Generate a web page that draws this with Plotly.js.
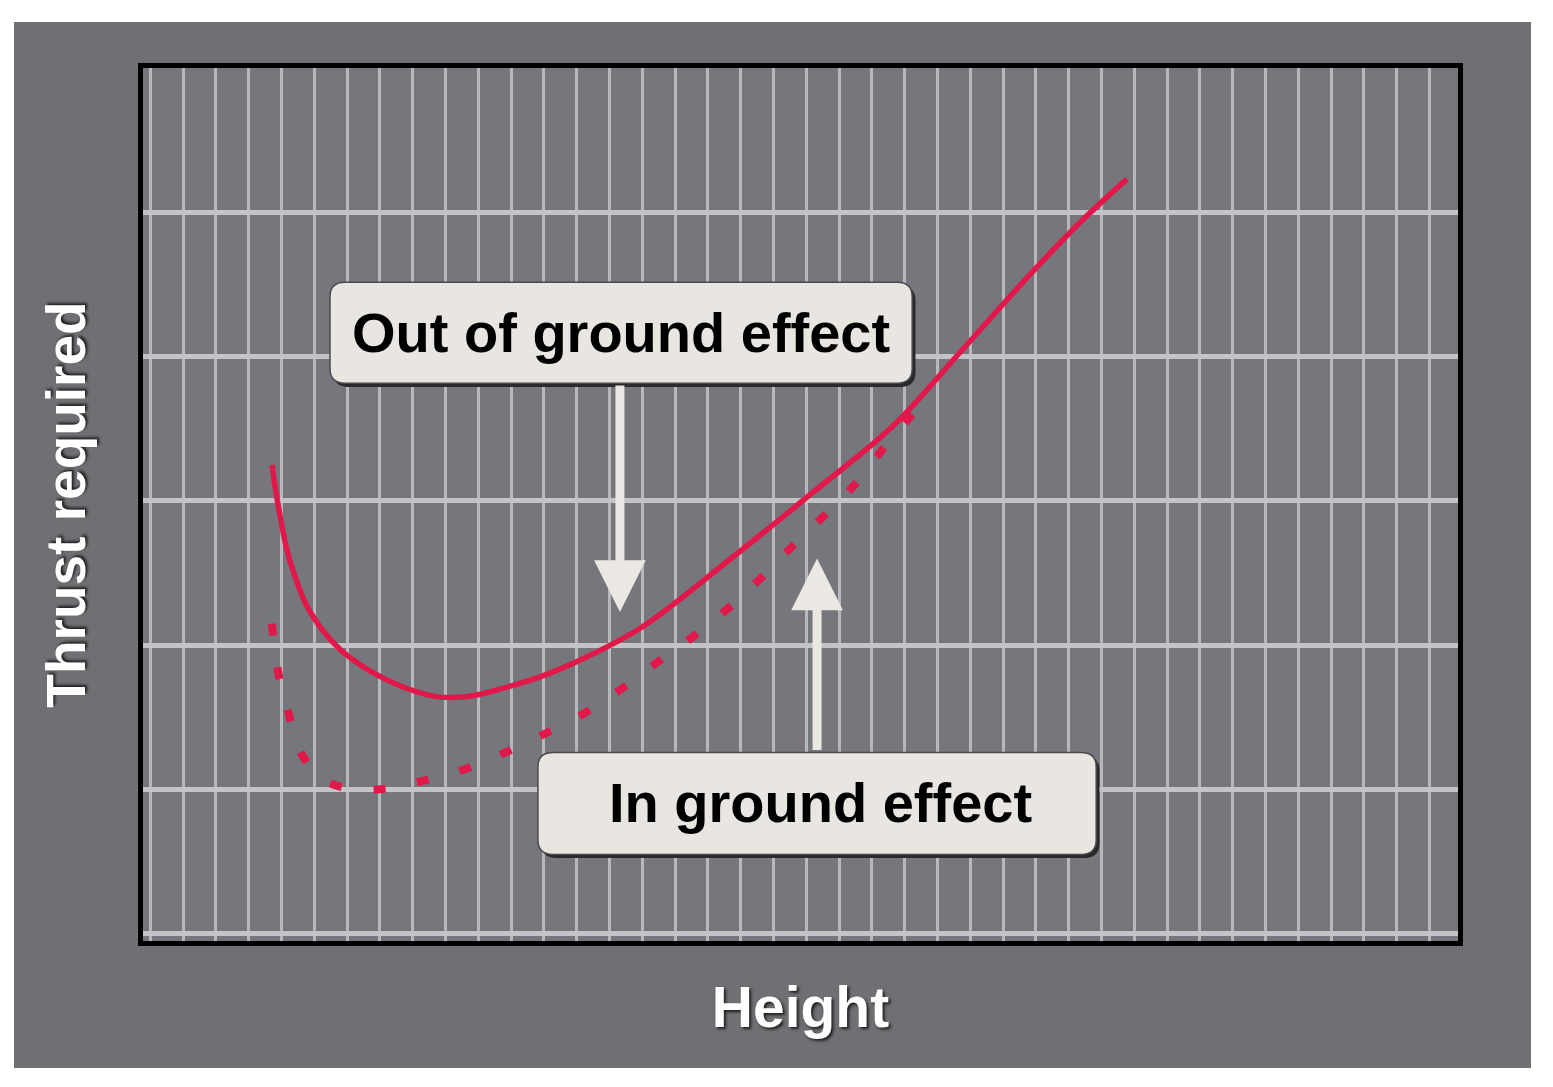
<!DOCTYPE html>
<html>
<head>
<meta charset="utf-8">
<script src="https://cdn.plot.ly/plotly-3.0.1.min.js"></script>
<style>
  html, body { margin: 0; padding: 0; background: #ffffff; }
  #myPlot { position: absolute; left: 14px; top: 22px; width: 1517px; height: 1046px; }
</style>
</head>
<body>
<div id="myPlot"></div>
<script>
// Curves (x = height grid units, y = thrust grid units)
var heightOut = [2.71, 2.87, 3.17, 3.48, 3.78, 4.27, 4.79, 5.30, 5.79, 6.83, 7.84, 8.84, 9.88, 10.88, 12.32, 14.02, 16.59, 19.21, 21.65, 23.69, 25.91, 27.44, 28.78];
var thrustOut = [3.25, 3.01, 2.66, 2.435, 2.27, 2.10, 1.97, 1.88, 1.81, 1.70, 1.64, 1.65, 1.71, 1.78, 1.92, 2.13, 2.58, 3.06, 3.52, 4.03, 4.59, 4.95, 5.23];

var heightIn = [2.71, 2.87, 3.17, 3.63, 4.42, 5.79, 7.13, 8.45, 9.66, 10.88, 12.10, 13.32, 14.45, 15.55, 16.59, 17.59, 18.51, 19.51, 20.43, 21.34, 22.16, 22.77];
var thrustIn = [2.15, 1.85, 1.57, 1.24, 1.05, 1.00, 1.05, 1.13, 1.24, 1.37, 1.51, 1.69, 1.88, 2.06, 2.25, 2.46, 2.67, 2.89, 3.10, 3.36, 3.58, 3.72];

var labelOut = "Out of ground effect";
var labelIn = "In ground effect";

var red = "#e2184a";
var boxFill = "#e9e5e0";
var arrowCol = "#ebe8e3";

// rounded box path in data units
function roundBox(x0, x1, y0, y1, rx, ry){
  return "M" + (x0+rx) + "," + y1 +
    " L" + (x1-rx) + "," + y1 + " Q" + x1 + "," + y1 + " " + x1 + "," + (y1-ry) +
    " L" + x1 + "," + (y0+ry) + " Q" + x1 + "," + y0 + " " + (x1-rx) + "," + y0 +
    " L" + (x0+rx) + "," + y0 + " Q" + x0 + "," + y0 + " " + x0 + "," + (y0+ry) +
    " L" + x0 + "," + (y1-ry) + " Q" + x0 + "," + y1 + " " + (x0+rx) + "," + y1 + " Z";
}

var box1 = [4.48, 22.23, 3.815, 4.515];
var box2 = [10.82, 27.84, 0.550, 1.257];

function boxShapes(b){
  return [
    {type: "path", xref: "x", yref: "y", layer: "above",
     path: roundBox(b[0]+0.1, b[1]+0.1, b[2]-0.025, b[3]-0.025, 0.46, 0.1),
     fillcolor: "#2a2a2c", line: {width: 0}},
    {type: "path", xref: "x", yref: "y", layer: "above",
     path: roundBox(b[0], b[1], b[2], b[3], 0.46, 0.1),
     fillcolor: boxFill, line: {color: "#4a4a4c", width: 1.5}}
  ];
}

var data = [
  {x: heightIn, y: thrustIn, mode: "lines", line: {color: red, width: 8, dash: "12px,32px", shape: "spline"}, hoverinfo: "skip"},
  {x: heightOut, y: thrustOut, mode: "lines", line: {color: red, width: 5.5, shape: "spline"}, hoverinfo: "skip"}
];

var titleFont = {family: "Liberation Sans, Arial, sans-serif", size: 57, color: "#ffffff", weight: "bold", shadow: "2px 2px 3px #1e1e20"};

var layout = {
  width: 1517, height: 1046,
  margin: {l: 129, r: 73, t: 46, b: 127},
  paper_bgcolor: "#6e7073",
  plot_bgcolor: "#76777c",
  showlegend: false,
  xaxis: {
    range: [-1.22, 38.87], tick0: 0, dtick: 1,
    showgrid: true, gridcolor: "#b7b8bc", gridwidth: 3,
    zeroline: false, showticklabels: false, ticks: "",
    showline: true, mirror: true, linecolor: "#000000", linewidth: 5,
    title: {text: "Height", font: titleFont, standoff: 44}
  },
  yaxis: {
    range: [-0.05, 6.0], tick0: 0, dtick: 1,
    showgrid: true, gridcolor: "#c3c4c8", gridwidth: 5,
    zeroline: false, showticklabels: false, ticks: "",
    showline: true, mirror: true, linecolor: "#000000", linewidth: 5,
    title: {text: "Thrust required", font: {family: titleFont.family, size: 55, color: "#ffffff", weight: "bold", shadow: titleFont.shadow}, standoff: 36}
  },
  shapes: boxShapes(box1).concat(boxShapes(box2)),
  annotations: [
    {x: 13.35, y: 4.17, xref: "x", yref: "y", text: labelOut, showarrow: false,
     font: {family: "Liberation Sans, Arial, sans-serif", size: 56, color: "#000000", weight: "bold"}},
    {x: 19.42, y: 0.91, xref: "x", yref: "y", text: labelIn, showarrow: false,
     font: {family: "Liberation Sans, Arial, sans-serif", size: 56, color: "#000000", weight: "bold"}},
    {x: 13.32, y: 2.23, ax: 13.32, ay: 3.81, xref: "x", yref: "y", axref: "x", ayref: "y",
     text: "", showarrow: true, arrowhead: 2, arrowsize: 1.15, arrowwidth: 9, arrowcolor: arrowCol, standoff: 0},
    {x: 19.33, y: 2.60, ax: 19.33, ay: 1.263, xref: "x", yref: "y", axref: "x", ayref: "y",
     text: "", showarrow: true, arrowhead: 2, arrowsize: 1.15, arrowwidth: 9, arrowcolor: arrowCol, standoff: 0}
  ]
};

Plotly.newPlot("myPlot", data, layout, {displayModeBar: false, staticPlot: true});
</script>
</body>
</html>
